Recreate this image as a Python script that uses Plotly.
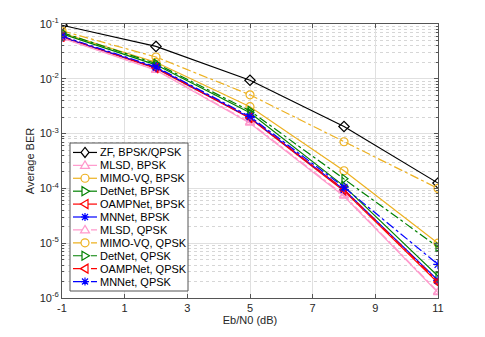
import plotly.graph_objects as go

snr = [-1, 2, 5, 8, 11]

zf = [0.095, 0.039, 0.0094, 1.35e-3, 1.25e-4]
mlsd_bpsk = [0.055, 0.0143, 1.55e-3, 7.2e-5, 1.25e-6]
mimovq_bpsk = [0.068, 0.020, 3.1e-3, 2.1e-4, 1.0e-5]
detnet_bpsk = [0.066, 0.018, 2.4e-3, 1.1e-4, 2.5e-6]
oampnet_bpsk = [0.058, 0.0155, 1.9e-3, 9.0e-5, 1.9e-6]
mnnet_bpsk = [0.058, 0.016, 1.95e-3, 9.5e-5, 2.1e-6]
mlsd_qpsk = [0.056, 0.0145, 1.6e-3, 7.5e-5, 1.3e-6]
mimovq_qpsk = [0.075, 0.025, 5.1e-3, 7.1e-4, 1.0e-4]
detnet_qpsk = [0.070, 0.019, 2.6e-3, 1.5e-4, 8.5e-6]
oampnet_qpsk = [0.059, 0.0158, 1.95e-3, 9.5e-5, 2.0e-6]
mnnet_qpsk = [0.060, 0.0165, 2.05e-3, 1.05e-4, 4.1e-6]

x_ticks = [-1, 1, 3, 5, 7, 9, 11]
y_ticks = [1e-6, 1e-5, 1e-4, 1e-3, 1e-2, 1e-1]
y_labels = ["10<sup>-6</sup>", "10<sup>-5</sup>", "10<sup>-4</sup>",
            "10<sup>-3</sup>", "10<sup>-2</sup>", "10<sup>-1</sup>"]
y_minor = [m * 10.0 ** e for e in range(-6, -1) for m in range(2, 10)]

BLACK = "#000000"
PINK = "#FF99CC"
ORANGE = "#EDB120"
GREEN = "#008000"
RED = "#FF0000"
BLUE = "#0000FF"

series = [
    ("ZF, BPSK/QPSK", zf, BLACK, "diamond-open", "solid"),
    ("MLSD, BPSK", mlsd_bpsk, PINK, "triangle-up-open", "solid"),
    ("MIMO-VQ, BPSK", mimovq_bpsk, ORANGE, "circle-open", "solid"),
    ("DetNet, BPSK", detnet_bpsk, GREEN, "triangle-right-open", "solid"),
    ("OAMPNet, BPSK", oampnet_bpsk, RED, "triangle-left-open", "solid"),
    ("MNNet, BPSK", mnnet_bpsk, BLUE, "asterisk-open", "solid"),
    ("MLSD, QPSK", mlsd_qpsk, PINK, "triangle-up-open", "dashdot"),
    ("MIMO-VQ, QPSK", mimovq_qpsk, ORANGE, "circle-open", "dashdot"),
    ("DetNet, QPSK", detnet_qpsk, GREEN, "triangle-right-open", "dashdot"),
    ("OAMPNet, QPSK", oampnet_qpsk, RED, "triangle-left-open", "dashdot"),
    ("MNNet, QPSK", mnnet_qpsk, BLUE, "asterisk-open", "dashdot"),
]

# ---- figure geometry (pixels, in page coordinates) ----
W, H = 485, 337
OFF = 8                      # default page body margin
PLOT_L, PLOT_R, PLOT_T, PLOT_B = 62, 438, 24, 298
PW, PH = PLOT_R - PLOT_L, PLOT_B - PLOT_T
ML = PLOT_L - OFF
MT = PLOT_T - OFF
MR = W - ML - PW
MB = H - MT - PH


def px_to_paper_x(px):
    return (px - PLOT_L) / PW


def px_to_paper_y(py):
    return (PLOT_B - py) / PH


fig = go.Figure()
for name, vals, color, sym, dash in series:
    fig.add_trace(go.Scatter(
        x=snr, y=vals, name=name, mode="lines+markers",
        line=dict(color=color, width=1.2, dash=dash),
        marker=dict(symbol=sym, size=8, color=color, line=dict(width=1.2, color=color)),
        showlegend=False,
    ))

# ---- compact MATLAB-style legend (native plotly legend rows are too tall) ----
MARKER_PATHS = {
    "diamond-open": "M0,5 L4,0 L0,-5 L-4,0 Z",
    "triangle-up-open": "M0,4.5 L4.5,-3 L-4.5,-3 Z",
    "triangle-right-open": "M4.5,0 L-3,4.5 L-3,-4.5 Z",
    "triangle-left-open": "M-4.5,0 L3,4.5 L3,-4.5 Z",
    "asterisk-open": "M-4,0 L4,0 M0,-4 L0,4 M-3,-3 L3,3 M-3,3 L3,-3",
}
shapes = []
annotations = []
LEG_L, LEG_R, LEG_T, LEG_B = 70, 188, 143, 291
shapes.append(dict(type="rect", xref="paper", yref="paper",
                   x0=px_to_paper_x(LEG_L), x1=px_to_paper_x(LEG_R),
                   y0=px_to_paper_y(LEG_B), y1=px_to_paper_y(LEG_T),
                   line=dict(color="#555555", width=1), fillcolor="white", layer="above"))
row_h = (LEG_B - LEG_T - 6) / len(series)
for i, (name, vals, color, sym, dash) in enumerate(series):
    cy = LEG_T + 3 + row_h * (i + 0.5)
    yp = px_to_paper_y(cy)
    shapes.append(dict(type="line", xref="paper", yref="paper",
                       x0=px_to_paper_x(73), x1=px_to_paper_x(97), y0=yp, y1=yp,
                       line=dict(color=color, width=1.2, dash=dash), layer="above"))
    if sym == "circle-open":
        shapes.append(dict(type="circle", xref="paper", yref="paper",
                           xsizemode="pixel", ysizemode="pixel",
                           xanchor=px_to_paper_x(85), yanchor=yp,
                           x0=-4, x1=4, y0=-4, y1=4,
                           line=dict(color=color, width=1.2), fillcolor="white", layer="above"))
    else:
        shapes.append(dict(type="path", xref="paper", yref="paper",
                           xsizemode="pixel", ysizemode="pixel",
                           xanchor=px_to_paper_x(85), yanchor=yp,
                           path=MARKER_PATHS[sym],
                           line=dict(color=color, width=1.2),
                           fillcolor="white" if sym != "asterisk-open" else None,
                           layer="above"))
    annotations.append(dict(xref="paper", yref="paper", x=px_to_paper_x(99), y=yp,
                            xanchor="left", yanchor="middle", text=name, showarrow=False,
                            font=dict(size=11, color="#000000"), borderpad=0))

FONT = "Liberation Sans, Arial, sans-serif"
fig.update_layout(
    width=W, height=H,
    margin=dict(l=ML, r=MR, t=MT, b=MB),
    paper_bgcolor="white", plot_bgcolor="white",
    font=dict(family=FONT, size=11, color="#262626"),
    showlegend=False,
    shapes=shapes,
    annotations=annotations,
    xaxis=dict(
        range=[-1, 11], tickvals=x_ticks, ticktext=[str(v) for v in x_ticks],
        showgrid=True, gridcolor="#e0e0e0", gridwidth=1,
        showline=True, linecolor="#555555", linewidth=1, mirror="ticks",
        ticks="inside", ticklen=4, tickcolor="#555555",
        zeroline=False, automargin=False,
        title=dict(text="Eb/N0 (dB)", standoff=3, font=dict(size=11)),
        tickfont=dict(size=11),
    ),
    yaxis=dict(
        type="log", range=[-6, -1],
        tickvals=y_ticks, ticktext=y_labels,
        showgrid=True, gridcolor="#e0e0e0", gridwidth=1,
        showline=True, linecolor="#555555", linewidth=1, mirror="ticks",
        ticks="inside", ticklen=4, tickcolor="#555555",
        zeroline=False, automargin=False,
        minor=dict(tickvals=y_minor, showgrid=True, gridcolor="#d6d6d6",
                   griddash="dot", ticks="inside", ticklen=2, tickcolor="#555555"),
        title=dict(text="Average BER", standoff=2, font=dict(size=11)),
        tickfont=dict(size=11),
    ),
)

fig.write_html("out.html")
